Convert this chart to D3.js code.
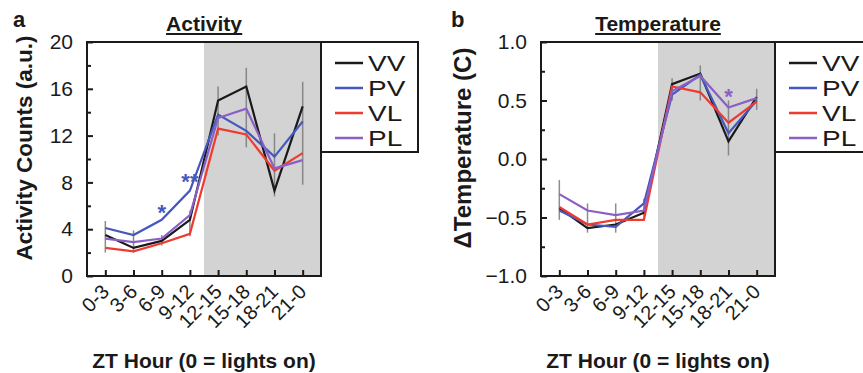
<!DOCTYPE html>
<html><head><meta charset="utf-8">
<script src="https://cdn.jsdelivr.net/npm/d3@7"></script>
<style>
html,body{margin:0;padding:0;background:#fff;}
svg{display:block;}
text{font-family:"Liberation Sans",Arial,sans-serif;fill:#1a1a1a;}
</style></head>
<body>
<svg id="chart" width="863" height="373"></svg>
<script>
// ---------- DATA ----------
const categories = ["0-3","3-6","6-9","9-12","12-15","15-18","18-21","21-0"];
const seriesNames = ["VV","PV","VL","PL"];
const seriesColors = ["#1a1a1a","#4458bd","#ee3b30","#8a5fc6"];

// Activity (a.u.)
const actVV = [3.5, 2.4, 3.0, 4.8, 15.0, 16.2, 7.3, 14.5];
const actPV = [4.1, 3.5, 4.8, 7.3, 13.8, 12.4, 10.2, 13.2];
const actVL = [2.4, 2.1, 2.8, 3.6, 12.6, 12.1, 9.0, 10.5];
const actPL = [3.2, 2.9, 3.2, 5.2, 13.5, 14.3, 9.2, 9.9];
const actErrLo = [2.0, 2.0, 2.6, 3.4, 12.0, 11.0, 6.8, 7.8];
const actErrHi = [4.7, 3.9, 3.5, 5.6, 16.2, 17.8, 12.2, 16.6];
const actTicks = [0, 4, 8, 12, 16, 20];
const actMinorTicks = [2, 6, 10, 14, 18];
const actStars = [{i: 2, v: 5.8, t: "*", c: 1}, {i: 3, v: 8.5, t: "**", c: 1}];

// Temperature (delta C)
const tempVV = [-0.42, -0.59, -0.56, -0.46, 0.64, 0.73, 0.15, 0.53];
const tempPV = [-0.44, -0.56, -0.58, -0.38, 0.55, 0.72, 0.22, 0.50];
const tempVL = [-0.41, -0.56, -0.52, -0.52, 0.62, 0.57, 0.31, 0.49];
const tempPL = [-0.30, -0.44, -0.48, -0.44, 0.58, 0.71, 0.44, 0.52];
const tempErrLo = [-0.52, -0.63, -0.63, -0.50, 0.50, 0.50, 0.03, 0.42];
const tempErrHi = [-0.18, -0.38, -0.38, -0.34, 0.69, 0.80, 0.50, 0.60];
const tempTicks = [-1.0, -0.5, 0.0, 0.5, 1.0];
const tempMinorTicks = [-0.75, -0.25, 0.25, 0.75];
const tempStars = [{i: 6, v: 0.575, t: "*", c: 3}];

// ---------- DRAW ----------
const svg = d3.select("#chart");

function drawPanel(o) {
  const g = svg.append("g");
  const x = d3.scalePoint().domain(categories).range([o.left, o.right]).padding(0.65);
  const y = d3.scaleLinear().domain(o.domain).range([o.bottom, o.top]);
  const step = x.step();

  // night shading
  g.append("rect")
    .attr("x", x(categories[3]) + step / 2).attr("y", o.top)
    .attr("width", o.right - (x(categories[3]) + step / 2)).attr("height", o.bottom - o.top)
    .attr("fill", "#d3d3d3");

  // error bars
  g.append("g").selectAll("line").data(categories).join("line")
    .attr("x1", d => x(d)).attr("x2", d => x(d))
    .attr("y1", (d, i) => y(o.errLo[i])).attr("y2", (d, i) => y(o.errHi[i]))
    .attr("stroke", "#7a7a7a").attr("stroke-width", 1.5).attr("opacity", 0.85);

  // series lines
  const line = d3.line().x((d, i) => x(categories[i])).y(d => y(d));
  o.series.forEach((s, k) => {
    g.append("path").datum(s).attr("d", line)
      .attr("fill", "none").attr("stroke", seriesColors[k])
      .attr("stroke-width", 2.2).attr("stroke-linejoin", "miter");
  });

  // stars
  o.stars.forEach(s => {
    g.append("text").attr("x", x(categories[s.i])).attr("y", y(s.v) + 12)
      .attr("text-anchor", "middle").attr("font-size", 22).attr("font-weight", "bold")
      .style("fill", seriesColors[s.c]).text(s.t);
  });

  // y axis (ticks inside)
  const yAxis = d3.axisLeft(y).tickValues(o.ticks).tickSize(-6).tickPadding(14)
    .tickFormat(o.fmt);
  const ya = g.append("g").attr("transform", `translate(${o.left},0)`).call(yAxis);
  ya.select(".domain").remove();
  ya.selectAll(".tick line").attr("stroke", "#1a1a1a").attr("stroke-width", 2);
  ya.selectAll(".tick text").attr("font-size", 21).style("font-family", '"Liberation Sans",Arial,sans-serif').attr("fill", "#1a1a1a");
  const yMinor = d3.axisLeft(y).tickValues(o.minor).tickSize(-4).tickFormat("");
  const ym = g.append("g").attr("transform", `translate(${o.left},0)`).call(yMinor);
  ym.select(".domain").remove();
  ym.selectAll(".tick line").attr("stroke", "#1a1a1a").attr("stroke-width", 2);

  // x axis (ticks inside)
  const xAxis = d3.axisBottom(x).tickSize(-6).tickFormat("");
  const xa = g.append("g").attr("transform", `translate(0,${o.bottom})`).call(xAxis);
  xa.select(".domain").remove();
  xa.selectAll(".tick line").attr("stroke", "#1a1a1a").attr("stroke-width", 2);

  // rotated x tick labels
  g.append("g").selectAll("text").data(categories).join("text")
    .attr("transform", d => `translate(${x(d) + 5},${o.bottom + 17}) rotate(-45)`)
    .attr("text-anchor", "end").attr("font-size", 20).text(d => d);

  // frame
  g.append("rect").attr("x", o.left).attr("y", o.top)
    .attr("width", o.right - o.left).attr("height", o.bottom - o.top)
    .attr("fill", "none").attr("stroke", "#1a1a1a").attr("stroke-width", 2);

  // legend box
  g.append("rect").attr("x", o.right).attr("y", o.top)
    .attr("width", o.legW).attr("height", 110)
    .attr("fill", "#fff").attr("stroke", "#1a1a1a").attr("stroke-width", 2);
  seriesNames.forEach((nm, k) => {
    const ly = o.top + 21 + k * 25;
    g.append("line").attr("x1", o.right + 14).attr("x2", o.right + 42)
      .attr("y1", ly).attr("y2", ly).attr("stroke", seriesColors[k]).attr("stroke-width", 2.5);
    g.append("text").attr("transform", `translate(${o.right + 47},${ly + 8}) scale(1.3,1)`)
      .attr("font-size", 21.5).text(nm);
  });

  // title (underlined)
  const cx = (o.left + o.right) / 2;
  const t = g.append("text").attr("x", cx).attr("y", 31).attr("text-anchor", "middle")
    .attr("font-size", 21).attr("font-weight", "bold").text(o.title);
  const bb = t.node().getBBox();
  g.append("line").attr("x1", bb.x).attr("x2", bb.x + bb.width)
    .attr("y1", 34).attr("y2", 34).attr("stroke", "#1a1a1a").attr("stroke-width", 1.8);

  // panel letter
  g.append("text").attr("x", o.letterX).attr("y", 27).attr("font-size", 22)
    .attr("font-weight", "bold").text(o.letter);

  // y label
  g.append("text").attr("transform", `translate(${o.ylabX},148) rotate(-90)`)
    .attr("text-anchor", "middle").attr("font-size", o.ylabSize).attr("font-weight", "bold")
    .text(o.ylabel);

  // x label
  g.append("text").attr("x", cx).attr("y", 368).attr("text-anchor", "middle")
    .attr("font-size", 21).attr("font-weight", "bold").text("ZT Hour (0 = lights on)");
}

drawPanel({
  left: 87, right: 321, top: 42, bottom: 276, domain: [0, 20],
  ticks: actTicks, minor: actMinorTicks, fmt: d3.format("d"),
  series: [actVV, actPV, actVL, actPL], errLo: actErrLo, errHi: actErrHi,
  stars: actStars, legW: 97, title: "Activity", letter: "a", letterX: 13,
  ylabel: "Activity Counts  (a.u.)", ylabX: 32, ylabSize: 22.5
});
drawPanel({
  left: 541, right: 775, top: 42, bottom: 276, domain: [-1, 1],
  ticks: tempTicks, minor: tempMinorTicks, fmt: d3.format(".1f"),
  series: [tempVV, tempPV, tempVL, tempPL], errLo: tempErrLo, errHi: tempErrHi,
  stars: tempStars, legW: 100, title: "Temperature", letter: "b", letterX: 451,
  ylabel: "\u0394Temperature (C)", ylabX: 471, ylabSize: 24
});
</script>
</body></html>
